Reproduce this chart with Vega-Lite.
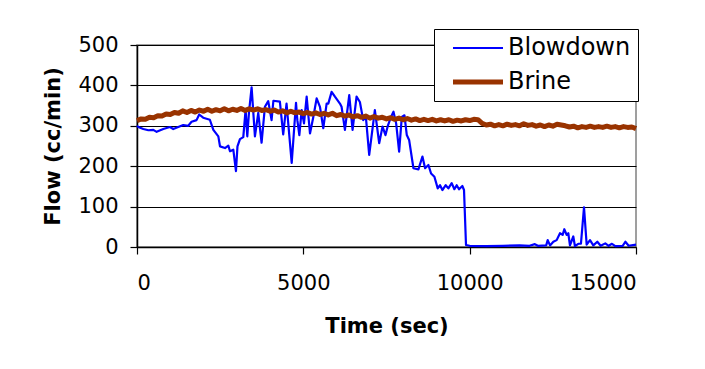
{
  "$schema": "https://vega.github.io/schema/vega-lite/v6.json",
  "autosize": "none",
  "width": 499,
  "height": 202,
  "padding": {"left": 137, "top": 45, "right": 69, "bottom": 122},
  "background": "white",
  "config": {
    "font": "DejaVu Sans",
    "view": {"stroke": "#808080", "strokeWidth": 1.5},
    "axis": {
      "domainColor": "#000000",
      "domainWidth": 1.5,
      "tickColor": "#000000",
      "tickWidth": 1.2,
      "tickSize": 7,
      "labelFont": "DejaVu Sans",
      "labelFontSize": 21,
      "labelColor": "#000000",
      "titleFont": "DejaVu Sans",
      "titleFontSize": 21,
      "titleFontWeight": "bold",
      "titleColor": "#000000"
    }
  },
  "datasets": {
    "flow": [
      {"t": 0, "v": 300, "s": "Blowdown"},
      {"t": 40, "v": 297, "s": "Blowdown"},
      {"t": 190, "v": 292, "s": "Blowdown"},
      {"t": 340, "v": 289, "s": "Blowdown"},
      {"t": 490, "v": 290, "s": "Blowdown"},
      {"t": 590, "v": 285, "s": "Blowdown"},
      {"t": 790, "v": 292, "s": "Blowdown"},
      {"t": 990, "v": 297, "s": "Blowdown"},
      {"t": 1090, "v": 292, "s": "Blowdown"},
      {"t": 1390, "v": 302, "s": "Blowdown"},
      {"t": 1540, "v": 300, "s": "Blowdown"},
      {"t": 1640, "v": 310, "s": "Blowdown"},
      {"t": 1790, "v": 314, "s": "Blowdown"},
      {"t": 1870, "v": 328, "s": "Blowdown"},
      {"t": 1990, "v": 320, "s": "Blowdown"},
      {"t": 2190, "v": 315, "s": "Blowdown"},
      {"t": 2295, "v": 290, "s": "Blowdown"},
      {"t": 2445, "v": 274, "s": "Blowdown"},
      {"t": 2495, "v": 249, "s": "Blowdown"},
      {"t": 2645, "v": 245, "s": "Blowdown"},
      {"t": 2745, "v": 251, "s": "Blowdown"},
      {"t": 2795, "v": 237, "s": "Blowdown"},
      {"t": 2895, "v": 241, "s": "Blowdown"},
      {"t": 2975, "v": 188, "s": "Blowdown"},
      {"t": 3020, "v": 249, "s": "Blowdown"},
      {"t": 3095, "v": 267, "s": "Blowdown"},
      {"t": 3195, "v": 272, "s": "Blowdown"},
      {"t": 3265, "v": 340, "s": "Blowdown"},
      {"t": 3315, "v": 274, "s": "Blowdown"},
      {"t": 3365, "v": 332, "s": "Blowdown"},
      {"t": 3445, "v": 395, "s": "Blowdown"},
      {"t": 3545, "v": 274, "s": "Blowdown"},
      {"t": 3645, "v": 332, "s": "Blowdown"},
      {"t": 3745, "v": 258, "s": "Blowdown"},
      {"t": 3845, "v": 347, "s": "Blowdown"},
      {"t": 3945, "v": 361, "s": "Blowdown"},
      {"t": 4045, "v": 314, "s": "Blowdown"},
      {"t": 4100, "v": 362, "s": "Blowdown"},
      {"t": 4295, "v": 360, "s": "Blowdown"},
      {"t": 4395, "v": 279, "s": "Blowdown"},
      {"t": 4495, "v": 355, "s": "Blowdown"},
      {"t": 4650, "v": 208, "s": "Blowdown"},
      {"t": 4780, "v": 357, "s": "Blowdown"},
      {"t": 4820, "v": 314, "s": "Blowdown"},
      {"t": 4880, "v": 277, "s": "Blowdown"},
      {"t": 4950, "v": 339, "s": "Blowdown"},
      {"t": 5020, "v": 306, "s": "Blowdown"},
      {"t": 5100, "v": 372, "s": "Blowdown"},
      {"t": 5200, "v": 281, "s": "Blowdown"},
      {"t": 5300, "v": 322, "s": "Blowdown"},
      {"t": 5400, "v": 368, "s": "Blowdown"},
      {"t": 5500, "v": 347, "s": "Blowdown"},
      {"t": 5600, "v": 294, "s": "Blowdown"},
      {"t": 5700, "v": 355, "s": "Blowdown"},
      {"t": 5750, "v": 355, "s": "Blowdown"},
      {"t": 5850, "v": 384, "s": "Blowdown"},
      {"t": 5950, "v": 372, "s": "Blowdown"},
      {"t": 6100, "v": 355, "s": "Blowdown"},
      {"t": 6150, "v": 347, "s": "Blowdown"},
      {"t": 6250, "v": 290, "s": "Blowdown"},
      {"t": 6380, "v": 376, "s": "Blowdown"},
      {"t": 6480, "v": 290, "s": "Blowdown"},
      {"t": 6600, "v": 372, "s": "Blowdown"},
      {"t": 6700, "v": 359, "s": "Blowdown"},
      {"t": 6800, "v": 314, "s": "Blowdown"},
      {"t": 6880, "v": 322, "s": "Blowdown"},
      {"t": 6980, "v": 228, "s": "Blowdown"},
      {"t": 7150, "v": 339, "s": "Blowdown"},
      {"t": 7280, "v": 257, "s": "Blowdown"},
      {"t": 7380, "v": 298, "s": "Blowdown"},
      {"t": 7470, "v": 277, "s": "Blowdown"},
      {"t": 7540, "v": 300, "s": "Blowdown"},
      {"t": 7635, "v": 322, "s": "Blowdown"},
      {"t": 7710, "v": 335, "s": "Blowdown"},
      {"t": 7790, "v": 306, "s": "Blowdown"},
      {"t": 7880, "v": 236, "s": "Blowdown"},
      {"t": 7960, "v": 322, "s": "Blowdown"},
      {"t": 8040, "v": 326, "s": "Blowdown"},
      {"t": 8110, "v": 277, "s": "Blowdown"},
      {"t": 8180, "v": 265, "s": "Blowdown"},
      {"t": 8310, "v": 195, "s": "Blowdown"},
      {"t": 8460, "v": 192, "s": "Blowdown"},
      {"t": 8580, "v": 224, "s": "Blowdown"},
      {"t": 8660, "v": 195, "s": "Blowdown"},
      {"t": 8760, "v": 203, "s": "Blowdown"},
      {"t": 8840, "v": 182, "s": "Blowdown"},
      {"t": 8940, "v": 174, "s": "Blowdown"},
      {"t": 9040, "v": 145, "s": "Blowdown"},
      {"t": 9110, "v": 153, "s": "Blowdown"},
      {"t": 9180, "v": 141, "s": "Blowdown"},
      {"t": 9280, "v": 153, "s": "Blowdown"},
      {"t": 9360, "v": 145, "s": "Blowdown"},
      {"t": 9460, "v": 158, "s": "Blowdown"},
      {"t": 9540, "v": 143, "s": "Blowdown"},
      {"t": 9610, "v": 153, "s": "Blowdown"},
      {"t": 9680, "v": 143, "s": "Blowdown"},
      {"t": 9780, "v": 151, "s": "Blowdown"},
      {"t": 9830, "v": 141, "s": "Blowdown"},
      {"t": 9890, "v": 5, "s": "Blowdown"},
      {"t": 10000, "v": 3, "s": "Blowdown"},
      {"t": 10500, "v": 2, "s": "Blowdown"},
      {"t": 11000, "v": 3, "s": "Blowdown"},
      {"t": 11500, "v": 4, "s": "Blowdown"},
      {"t": 11800, "v": 3, "s": "Blowdown"},
      {"t": 11960, "v": 7, "s": "Blowdown"},
      {"t": 12050, "v": 3, "s": "Blowdown"},
      {"t": 12300, "v": 4, "s": "Blowdown"},
      {"t": 12346, "v": 17, "s": "Blowdown"},
      {"t": 12415, "v": 4, "s": "Blowdown"},
      {"t": 12515, "v": 13, "s": "Blowdown"},
      {"t": 12615, "v": 17, "s": "Blowdown"},
      {"t": 12715, "v": 34, "s": "Blowdown"},
      {"t": 12795, "v": 30, "s": "Blowdown"},
      {"t": 12845, "v": 44, "s": "Blowdown"},
      {"t": 12915, "v": 30, "s": "Blowdown"},
      {"t": 12965, "v": 34, "s": "Blowdown"},
      {"t": 13015, "v": 4, "s": "Blowdown"},
      {"t": 13115, "v": 26, "s": "Blowdown"},
      {"t": 13165, "v": 2, "s": "Blowdown"},
      {"t": 13265, "v": 8, "s": "Blowdown"},
      {"t": 13345, "v": 8, "s": "Blowdown"},
      {"t": 13437, "v": 98, "s": "Blowdown"},
      {"t": 13517, "v": 6, "s": "Blowdown"},
      {"t": 13617, "v": 17, "s": "Blowdown"},
      {"t": 13717, "v": 4, "s": "Blowdown"},
      {"t": 13837, "v": 13, "s": "Blowdown"},
      {"t": 13937, "v": 3, "s": "Blowdown"},
      {"t": 14077, "v": 9, "s": "Blowdown"},
      {"t": 14177, "v": 3, "s": "Blowdown"},
      {"t": 14277, "v": 8, "s": "Blowdown"},
      {"t": 14377, "v": 2, "s": "Blowdown"},
      {"t": 14600, "v": 3, "s": "Blowdown"},
      {"t": 14680, "v": 13, "s": "Blowdown"},
      {"t": 14780, "v": 3, "s": "Blowdown"},
      {"t": 15000, "v": 6, "s": "Blowdown"},
      {"t": 0, "v": 313, "s": "Brine"},
      {"t": 125, "v": 317, "s": "Brine"},
      {"t": 250, "v": 316, "s": "Brine"},
      {"t": 375, "v": 321, "s": "Brine"},
      {"t": 500, "v": 320, "s": "Brine"},
      {"t": 625, "v": 325, "s": "Brine"},
      {"t": 750, "v": 324, "s": "Brine"},
      {"t": 875, "v": 329, "s": "Brine"},
      {"t": 1000, "v": 328, "s": "Brine"},
      {"t": 1125, "v": 333, "s": "Brine"},
      {"t": 1250, "v": 331, "s": "Brine"},
      {"t": 1375, "v": 337, "s": "Brine"},
      {"t": 1500, "v": 333, "s": "Brine"},
      {"t": 1625, "v": 338, "s": "Brine"},
      {"t": 1750, "v": 334, "s": "Brine"},
      {"t": 1875, "v": 339, "s": "Brine"},
      {"t": 2000, "v": 336, "s": "Brine"},
      {"t": 2125, "v": 341, "s": "Brine"},
      {"t": 2250, "v": 336, "s": "Brine"},
      {"t": 2375, "v": 340, "s": "Brine"},
      {"t": 2500, "v": 337, "s": "Brine"},
      {"t": 2625, "v": 342, "s": "Brine"},
      {"t": 2750, "v": 337, "s": "Brine"},
      {"t": 2875, "v": 341, "s": "Brine"},
      {"t": 3000, "v": 338, "s": "Brine"},
      {"t": 3125, "v": 343, "s": "Brine"},
      {"t": 3250, "v": 338, "s": "Brine"},
      {"t": 3375, "v": 342, "s": "Brine"},
      {"t": 3500, "v": 339, "s": "Brine"},
      {"t": 3625, "v": 342, "s": "Brine"},
      {"t": 3750, "v": 338, "s": "Brine"},
      {"t": 3875, "v": 340, "s": "Brine"},
      {"t": 4000, "v": 336, "s": "Brine"},
      {"t": 4125, "v": 339, "s": "Brine"},
      {"t": 4250, "v": 334, "s": "Brine"},
      {"t": 4375, "v": 337, "s": "Brine"},
      {"t": 4500, "v": 332, "s": "Brine"},
      {"t": 4625, "v": 336, "s": "Brine"},
      {"t": 4750, "v": 332, "s": "Brine"},
      {"t": 4875, "v": 334, "s": "Brine"},
      {"t": 5000, "v": 330, "s": "Brine"},
      {"t": 5125, "v": 333, "s": "Brine"},
      {"t": 5250, "v": 329, "s": "Brine"},
      {"t": 5375, "v": 332, "s": "Brine"},
      {"t": 5500, "v": 328, "s": "Brine"},
      {"t": 5625, "v": 331, "s": "Brine"},
      {"t": 5750, "v": 327, "s": "Brine"},
      {"t": 5875, "v": 331, "s": "Brine"},
      {"t": 6000, "v": 325, "s": "Brine"},
      {"t": 6125, "v": 328, "s": "Brine"},
      {"t": 6250, "v": 324, "s": "Brine"},
      {"t": 6375, "v": 327, "s": "Brine"},
      {"t": 6500, "v": 322, "s": "Brine"},
      {"t": 6625, "v": 325, "s": "Brine"},
      {"t": 6750, "v": 321, "s": "Brine"},
      {"t": 6875, "v": 324, "s": "Brine"},
      {"t": 7000, "v": 319, "s": "Brine"},
      {"t": 7125, "v": 323, "s": "Brine"},
      {"t": 7250, "v": 319, "s": "Brine"},
      {"t": 7375, "v": 321, "s": "Brine"},
      {"t": 7500, "v": 317, "s": "Brine"},
      {"t": 7625, "v": 320, "s": "Brine"},
      {"t": 7750, "v": 316, "s": "Brine"},
      {"t": 7875, "v": 319, "s": "Brine"},
      {"t": 8000, "v": 315, "s": "Brine"},
      {"t": 8125, "v": 318, "s": "Brine"},
      {"t": 8250, "v": 314, "s": "Brine"},
      {"t": 8375, "v": 317, "s": "Brine"},
      {"t": 8500, "v": 313, "s": "Brine"},
      {"t": 8625, "v": 316, "s": "Brine"},
      {"t": 8750, "v": 313, "s": "Brine"},
      {"t": 8875, "v": 316, "s": "Brine"},
      {"t": 9000, "v": 312, "s": "Brine"},
      {"t": 9125, "v": 315, "s": "Brine"},
      {"t": 9250, "v": 312, "s": "Brine"},
      {"t": 9375, "v": 315, "s": "Brine"},
      {"t": 9500, "v": 311, "s": "Brine"},
      {"t": 9625, "v": 314, "s": "Brine"},
      {"t": 9750, "v": 312, "s": "Brine"},
      {"t": 9875, "v": 315, "s": "Brine"},
      {"t": 10000, "v": 313, "s": "Brine"},
      {"t": 10125, "v": 316, "s": "Brine"},
      {"t": 10250, "v": 315, "s": "Brine"},
      {"t": 10375, "v": 306, "s": "Brine"},
      {"t": 10500, "v": 302, "s": "Brine"},
      {"t": 10625, "v": 304, "s": "Brine"},
      {"t": 10750, "v": 300, "s": "Brine"},
      {"t": 10875, "v": 303, "s": "Brine"},
      {"t": 11000, "v": 300, "s": "Brine"},
      {"t": 11125, "v": 304, "s": "Brine"},
      {"t": 11250, "v": 301, "s": "Brine"},
      {"t": 11375, "v": 303, "s": "Brine"},
      {"t": 11500, "v": 300, "s": "Brine"},
      {"t": 11625, "v": 305, "s": "Brine"},
      {"t": 11750, "v": 301, "s": "Brine"},
      {"t": 11875, "v": 303, "s": "Brine"},
      {"t": 12000, "v": 299, "s": "Brine"},
      {"t": 12125, "v": 302, "s": "Brine"},
      {"t": 12250, "v": 298, "s": "Brine"},
      {"t": 12375, "v": 302, "s": "Brine"},
      {"t": 12500, "v": 299, "s": "Brine"},
      {"t": 12625, "v": 304, "s": "Brine"},
      {"t": 12750, "v": 302, "s": "Brine"},
      {"t": 12875, "v": 300, "s": "Brine"},
      {"t": 13000, "v": 297, "s": "Brine"},
      {"t": 13125, "v": 299, "s": "Brine"},
      {"t": 13250, "v": 295, "s": "Brine"},
      {"t": 13375, "v": 298, "s": "Brine"},
      {"t": 13500, "v": 296, "s": "Brine"},
      {"t": 13625, "v": 299, "s": "Brine"},
      {"t": 13750, "v": 296, "s": "Brine"},
      {"t": 13875, "v": 298, "s": "Brine"},
      {"t": 14000, "v": 296, "s": "Brine"},
      {"t": 14125, "v": 299, "s": "Brine"},
      {"t": 14250, "v": 296, "s": "Brine"},
      {"t": 14375, "v": 298, "s": "Brine"},
      {"t": 14500, "v": 295, "s": "Brine"},
      {"t": 14625, "v": 298, "s": "Brine"},
      {"t": 14750, "v": 296, "s": "Brine"},
      {"t": 14875, "v": 297, "s": "Brine"},
      {"t": 15000, "v": 293, "s": "Brine"}
    ]
  },
  "data": {"name": "flow"},
  "encoding": {
    "x": {
      "field": "t",
      "type": "quantitative",
      "scale": {"domain": [0, 15000], "nice": false},
      "axis": {
        "title": "Time (sec)",
        "values": [0, 5000, 10000, 15000],
        "format": "d",
        "grid": false,
        "labelPadding": 18,
        "titlePadding": 22
      }
    },
    "y": {
      "field": "v",
      "type": "quantitative",
      "scale": {"domain": [0, 500], "nice": false},
      "axis": {
        "title": "Flow (cc/min)",
        "values": [0, 100, 200, 300, 400, 500],
        "grid": true,
        "gridColor": "#000000",
        "gridWidth": 1,
        "gridOpacity": 1,
        "labelPadding": 12,
        "titlePadding": 14
      }
    },
    "color": {
      "field": "s",
      "type": "nominal",
      "scale": {"domain": ["Blowdown", "Brine"], "range": ["#0000FF", "#993300"]},
      "legend": {
        "title": null,
        "orient": "none",
        "legendX": 297,
        "legendY": -16,
        "direction": "vertical",
        "fillColor": "white",
        "strokeColor": "#000000",
        "padding": 7,
        "symbolType": "stroke",
        "symbolSize": 2500,
        "symbolOffset": 25,
        "labelOffset": 18,
        "labelFontSize": 24,
        "labelFont": "DejaVu Sans",
        "labelColor": "#000000",
        "rowPadding": 10,
        "labelLimit": 300,
        "encode": {
          "symbols": {"update": {"strokeWidth": {"signal": "datum.value === 'Brine' ? 5 : 2.2"}}}
        }
      }
    }
  },
  "layer": [
    {
      "transform": [{"filter": "datum.s === 'Blowdown'"}],
      "mark": {"type": "line", "strokeWidth": 2.2, "strokeJoin": "round"}
    },
    {
      "transform": [{"filter": "datum.s === 'Brine'"}],
      "mark": {"type": "line", "strokeWidth": 5, "strokeJoin": "round"}
    }
  ]
}
